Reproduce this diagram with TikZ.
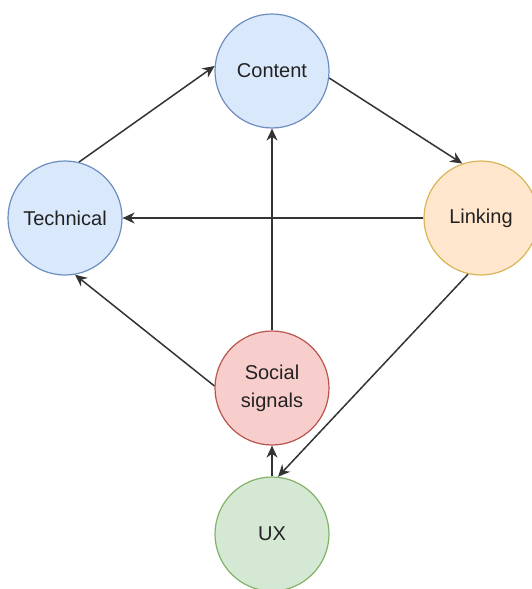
\documentclass[tikz,border=0pt]{standalone}
\usepackage{fontspec}
\setmainfont{Liberation Sans}
\usetikzlibrary{arrows.meta}
\definecolor{bluefill}{HTML}{DAE8FC}
\definecolor{bluedraw}{HTML}{6C8EBF}
\definecolor{orangefill}{HTML}{FFE6CC}
\definecolor{orangedraw}{HTML}{D6B656}
\definecolor{redfill}{HTML}{F8CECC}
\definecolor{reddraw}{HTML}{B85450}
\definecolor{greenfill}{HTML}{D5E8D4}
\definecolor{greendraw}{HTML}{82B366}
\definecolor{linecol}{HTML}{333333}
\definecolor{textcol}{HTML}{222222}
\begin{document}
\begin{tikzpicture}[x=1pt,y=-1pt,
  circ/.style={circle, minimum size=114pt, inner sep=0pt, line width=1.2pt,
    font=\fontsize{20}{28}\selectfont, text=textcol, align=center},
  conn/.style={line width=1.5pt, draw=linecol,
    -{Stealth[length=12pt,width=11pt]}}]
\useasboundingbox (0,0) rectangle (532,589);
\node[circ, fill=bluefill, draw=bluedraw] (content) at (272,71) {Content};
\node[circ, fill=bluefill, draw=bluedraw] (tech) at (65,218) {Technical};
\node[circ, fill=orangefill, draw=orangedraw] (link) at (481,218) {Linking};
\node[circ, fill=redfill, draw=reddraw] (soc) at (272,388) {Social\\signals};
\node[circ, fill=greenfill, draw=greendraw] (ux) at (272,534) {UX};
\draw[conn] (tech.76) -- (content.175);
\draw[conn] (content.-7) -- (link.109);
\draw[conn] (soc.north) -- (content.south);
\draw[conn] (link.west) -- (tech.east);
\draw[conn] (soc.178) -- (tech.-80);
\draw[conn] (link.-103) -- (ux.84);
\draw[conn] (ux.north) -- (soc.south);
\end{tikzpicture}
\end{document}
